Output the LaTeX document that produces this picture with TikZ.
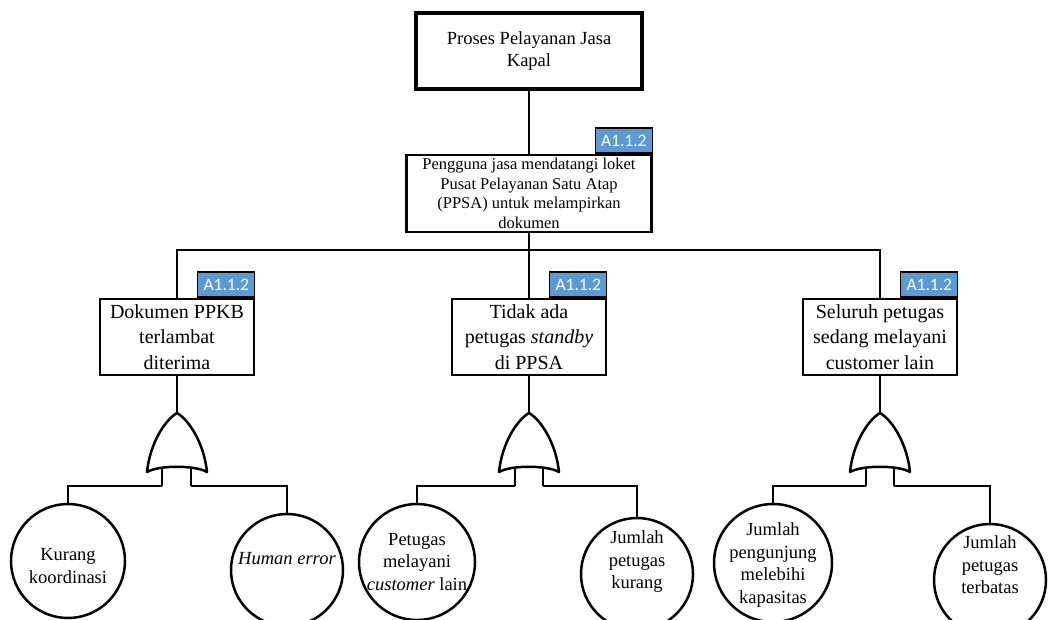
\documentclass[tikz,border=0pt]{standalone}
\usepackage{fontspec}
\setmainfont{Liberation Serif}
\newfontfamily\tagfont{Carlito}
\definecolor{tagblue}{HTML}{5B9BD5}
\begin{document}
\begin{tikzpicture}[x=1pt,y=-1pt,
  box/.style={draw, line width=2.9pt, fill=white, inner sep=0pt, align=center},
  topbox/.style={box, line width=3.2pt, minimum width=226pt, minimum height=76pt,
    font=\fontsize{18.5}{22.5}\selectfont},
  midbox/.style={box, minimum width=245pt, minimum height=77pt,
    font=\fontsize{16.5}{19.5}\selectfont},
  subbox/.style={box, minimum width=154pt, minimum height=76pt,
    font=\fontsize{20}{25.5}\selectfont},
  tag/.style={draw, line width=1.3pt, fill=tagblue, text=white,
    font=\tagfont\fontsize{17.5}{17.5}\selectfont, minimum width=57pt,
    minimum height=25pt, inner sep=0pt, anchor=south east},
  circ/.style={draw, circle, line width=2.5pt, fill=white, inner sep=0pt},
  ctext/.style={align=center, inner sep=0pt, font=\fontsize{18.5}{22.5}\selectfont},
  wire/.style={line width=2.1pt},
  gatebody/.style={draw, line width=2.5pt, fill=white, line join=round},
  orgate/.pic={\path[gatebody] (0,0) .. controls (12,7) and (27,30) .. (30,59)
      .. controls (18,52) and (-18,52) .. (-30,59)
      .. controls (-27,30) and (-12,7) .. (0,0) -- cycle;}
]
\useasboundingbox (0,0) rectangle (1048,619);

% --- gate apexes, leg ends and the bus junction ---------------------------
\coordinate (g1) at (177,413);
\coordinate (g2) at (529,413);
\coordinate (g3) at (880,413);
\coordinate (g1a) at (162,486); \coordinate (g1b) at (191,486);
\coordinate (g2a) at (515,486); \coordinate (g2b) at (543,486);
\coordinate (g3a) at (866,486); \coordinate (g3b) at (894,486);
\coordinate (bus) at (529,250);

% --- boxes ---------------------------------------------------------------
\node[topbox] (top) at (529,51) {Proses Pelayanan Jasa\\Kapal};
\node[midbox] (mid) at (529,193.5) {Pengguna jasa mendatangi loket\\Pusat Pelayanan Satu Atap\\(PPSA) untuk melampirkan\\dokumen};
\node[subbox] (b1) at (177,337) {Dokumen PPKB\\terlambat\\diterima};
\node[subbox] (b2) at (529,337) {Tidak ada\\petugas \textit{standby}\\di PPSA};
\node[subbox] (b3) at (880,337) {Seluruh petugas\\sedang melayani\\customer lain};

% --- basic events --------------------------------------------------------
\node[circ, minimum size=114pt] (e1) at (68,561) {};
\node[circ, minimum size=112pt] (e2) at (287,570) {};
\node[circ, minimum size=116pt] (e3) at (417,562) {};
\node[circ, minimum size=112pt] (e4) at (637,574) {};
\node[circ, minimum size=118pt] (e5) at (773,563) {};
\node[circ, minimum size=112pt] (e6) at (990,580) {};

% --- connectors ----------------------------------------------------------
\draw[wire] (top.south) -- (mid.north);
\draw[wire] (mid.south) -- (b2.north);
\draw[wire] (b1.north) |- (bus) -| (b3.north);
\draw[wire] (b1.south) -- (g1);
\draw[wire] (b2.south) -- (g2);
\draw[wire] (b3.south) -- (g3);
\foreach \g in {g1a,g1b,g2a,g2b,g3a,g3b}
  \draw[wire] (\g) -- ++(0,-20);
\draw[wire] (g1a) -| (e1.north);
\draw[wire] (g1b) -| (e2.north);
\draw[wire] (g2a) -| (e3.north);
\draw[wire] (g2b) -| (e4.north);
\draw[wire] (g3a) -| (e5.north);
\draw[wire] (g3b) -| (e6.north);

% --- identifiers on the boxes --------------------------------------------
\node[tag] (t0) at (mid.north east) {A1.1.2};
\node[tag] (t1) at (b1.north east) {A1.1.2};
\node[tag] (t2) at (b2.north east) {A1.1.2};
\node[tag] (t3) at (b3.north east) {A1.1.2};

% --- OR gates ------------------------------------------------------------
\pic at (g1) {orgate};
\pic at (g2) {orgate};
\pic at (g3) {orgate};

% --- event texts ---------------------------------------------------------
\node[ctext] (x1) at (68,566) {Kurang\\koordinasi};
\node[ctext] (x2) at (287,559) {\textit{Human error}};
\node[ctext] (x3) at (417,562) {Petugas\\melayani\\\textit{customer} lain};
\node[ctext] (x4) at (637,562) {Jumlah\\petugas\\kurang};
\node[ctext] (x5) at (773,565) {Jumlah\\pengunjung\\melebihi\\kapasitas};
\node[ctext] (x6) at (990,565) {Jumlah\\petugas\\terbatas};
\end{tikzpicture}
\end{document}
